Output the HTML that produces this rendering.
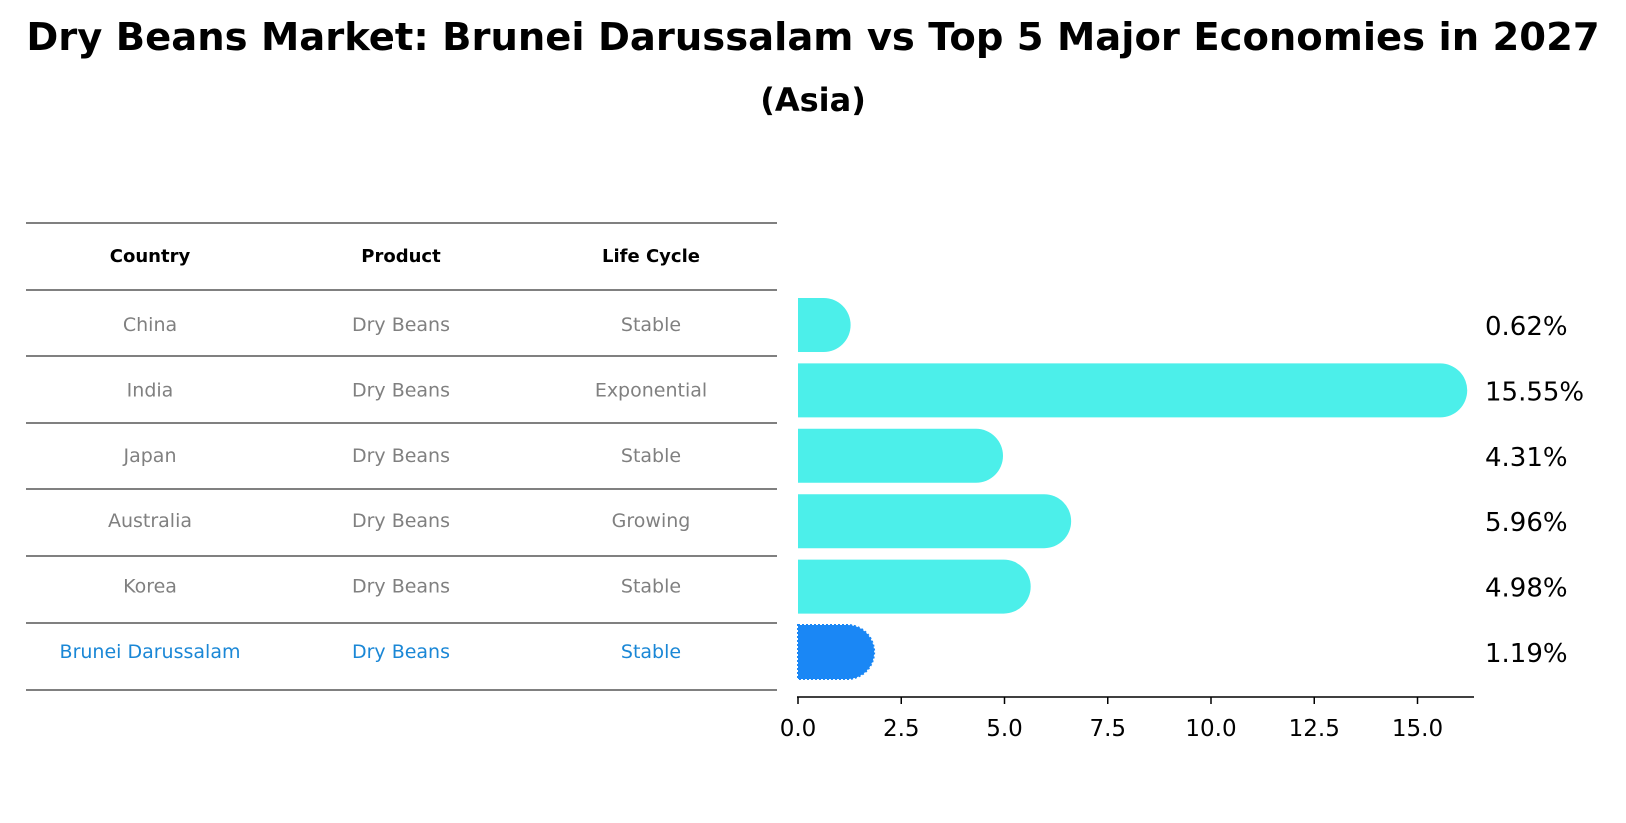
<!DOCTYPE html>
<html><head><meta charset="utf-8"><style>
body{margin:0;background:#fff;}
svg{display:block;font-family:"DejaVu Sans","Liberation Sans",sans-serif;}
</style></head><body>
<svg id="c" width="1626" height="823" viewBox="0 0 1626 823">
<text x="813" y="50" text-anchor="middle" font-size="38.5" font-weight="bold">Dry Beans Market: Brunei Darussalam vs Top 5 Major Economies in 2027</text>
<text x="813" y="111" text-anchor="middle" font-size="32" font-weight="bold">(Asia)</text>
<g id="table"></g>
<g id="bars"></g>
</svg>
<script>
const countries=["China","India","Japan","Australia","Korea","Brunei Darussalam"];
const products=["Dry Beans","Dry Beans","Dry Beans","Dry Beans","Dry Beans","Dry Beans"];
const lifecycles=["Stable","Exponential","Stable","Growing","Stable","Stable"];
const values=[0.62,15.55,4.31,5.96,4.98,1.19];
const ticks=[0,2.5,5,7.5,10,12.5,15];
const NS="http://www.w3.org/2000/svg";
function mk(t,a,p){const e=document.createElementNS(NS,t);for(const k in a)e.setAttribute(k,a[k]);p.appendChild(e);return e;}
const x0=798,unit=41.3,xs=v=>x0+v*unit;
const rowY=i=>325+i*65.4;
const tb=document.getElementById('table'),bg=document.getElementById('bars');
const lineYs=[223,290,356,423,489,556,623,690];
lineYs.forEach(y=>{const l=mk('line',{x1:26,x2:777,y1:y,y2:y,stroke:'#000','stroke-width':1},tb);

});
const colX=[150,401,651],heads=["Country","Product","Life Cycle"];
heads.forEach((h,j)=>{const t=mk('text',{x:colX[j],y:262,'text-anchor':'middle','font-size':18,'font-weight':'bold'},tb);t.textContent=h;

});
countries.forEach((c,i)=>{const y=rowY(i);const col=i===countries.length-1?'#1a87d6':'#808080';
[c,products[i],lifecycles[i]].forEach((s,j)=>{const t=mk('text',{x:colX[j],y:y+6,'text-anchor':'middle','font-size':19,fill:col},tb);t.textContent=s;

});
const h=54,r=h/2,w=xs(values[i])-x0,last=i===countries.length-1;
const p=mk('path',{d:`M${x0},${y-r}h${w}a${r},${r} 0 0 1 0,${h}h${-w}z`,fill:last?'#1a87f5':'#4cefea'},bg);
if(last){p.setAttribute('stroke','#1a87f5');p.setAttribute('stroke-dasharray','2,2');p.setAttribute('stroke-width','2');}


const lt=mk('text',{x:1485,y:y+10,'font-size':26},bg);lt.textContent=values[i].toFixed(2)+'%';

});
const ax=mk('line',{x1:797,x2:1474,y1:697,y2:697,stroke:'#000','stroke-width':1.5},bg);


ticks.forEach(v=>{const tk=mk('line',{x1:xs(v),x2:xs(v),y1:697,y2:704,stroke:'#000','stroke-width':1.5},bg);


const t=mk('text',{x:xs(v),y:736,'text-anchor':'middle','font-size':23},bg);t.textContent=v.toFixed(1);

});
</script>
</body></html>
